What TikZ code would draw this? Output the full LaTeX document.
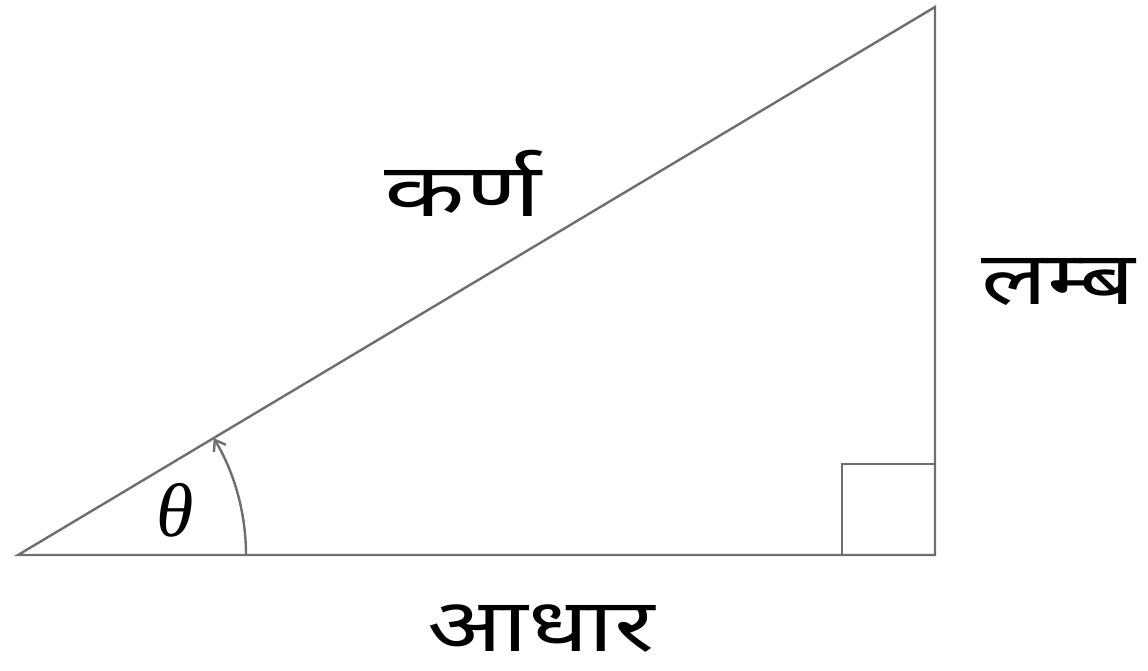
\documentclass[tikz,border=0pt]{standalone}
\usepackage{fontspec}
\newfontfamily\devfont[Script=Devanagari]{Noto Sans}
\newfontfamily\grfont{Liberation Serif}
\usetikzlibrary{arrows.meta,calc}
\definecolor{linegray}{RGB}{110,110,110}
\tikzset{
  edge/.style={draw=linegray, line width=2.4pt},
  lbl/.style={inner sep=0pt, anchor=base, text depth=0pt, font=\devfont\fontsize{74}{78}\selectfont},
}
\begin{document}
\begin{tikzpicture}[x=1pt,y=1pt]
\useasboundingbox (0,0) rectangle (1148,670);
\coordinate (A) at (18,115);
\coordinate (B) at (935,115);
\coordinate (C) at (935,663);
\draw[edge, line join=miter] (A) -- (B) -- (C) -- cycle;
\draw[edge] (842,115) -- (842,206) -- (935,206);
\draw[edge, -{Straight Barb[length=10pt,width=14pt]}] ($(A)+(228,0)$) arc[start angle=0, end angle=30.86, radius=228];
\node[inner sep=0pt, font=\grfont\itshape\fontsize{76}{76}\selectfont] (th) at (175,160) {θ};
\node[lbl, xscale=1.42] (hyp) at (463,453) {कर्ण};
\node[lbl, xscale=1.32] (per) at (1058,365) {लम्ब};
\node[lbl, xscale=1.33] (base) at (541,19) {आधार};
\end{tikzpicture}
\end{document}
